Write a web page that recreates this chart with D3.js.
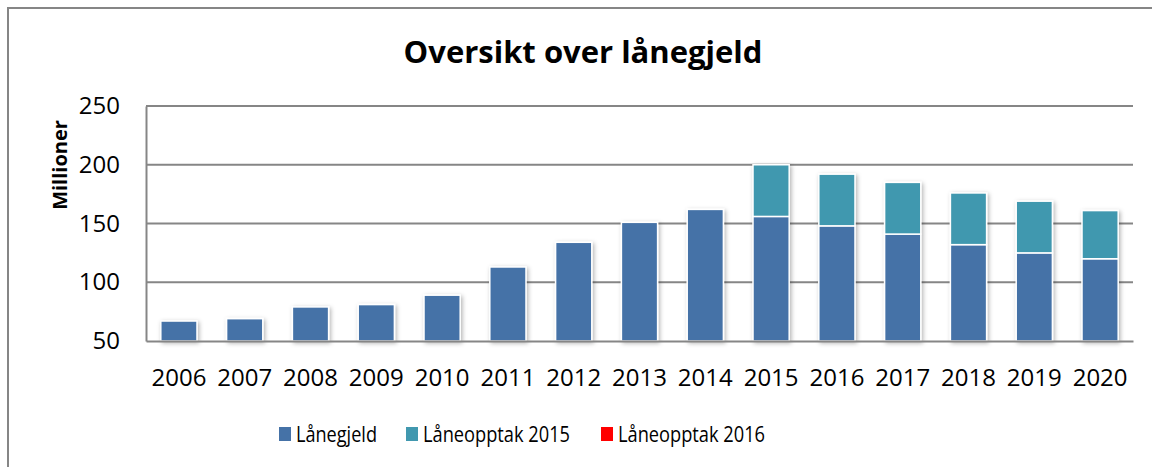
<!DOCTYPE html>
<html>
<head>
<meta charset="utf-8">
<script src="https://cdn.jsdelivr.net/npm/d3@7"></script>
<style>
  body { margin: 0; background: #fff; }
  svg { display: block; font-family: "Open Sans", sans-serif; }
</style>
</head>
<body>
<svg></svg>
<script>
let years = ["2006","2007","2008","2009","2010","2011","2012","2013","2014","2015","2016","2017","2018","2019","2020"]
let laanegjeld = [67, 69, 79, 81, 89, 113, 134, 151, 162, 156, 148, 141, 132, 125, 120]
let laaneopptak2015 = [0, 0, 0, 0, 0, 0, 0, 0, 0, 44, 44, 44, 44, 44, 41]
let laaneopptak2016 = [0, 0, 0, 0, 0, 0, 0, 0, 0, 0, 0, 0, 0, 0, 0]
let seriesNames = ["Lånegjeld", "Låneopptak 2015", "Låneopptak 2016"]
let seriesColors = ["#4572a7", "#4198af", "#ff0000"]
let yTicks = [50, 100, 150, 200, 250]

let width = 1152
let height = 467
let plotLeft = 146
let plotRight = 1133
let plotTop = 106
let plotBottom = 341

let svg = d3.select("svg")
svg.attr("width", width)
svg.attr("height", height)

// drop shadow like the office chart
let defs = svg.append("defs")
defs.append("filter")
    .attr("id", "shadow")
    .attr("x", "-20%").attr("y", "-20%")
    .attr("width", "150%").attr("height", "150%")
    .append("feDropShadow")
    .attr("dx", 1.5).attr("dy", 1.5)
    .attr("stdDeviation", 2)
    .attr("flood-color", "#000")
    .attr("flood-opacity", 0.3)

// outer chart border
svg.append("rect")
   .attr("x", 8).attr("y", 8)
   .attr("width", 1170).attr("height", 480)
   .attr("fill", "none")
   .attr("stroke", "#868686")
   .attr("stroke-width", 2)

let xScale = d3.scaleBand()
               .domain(years)
               .range([plotLeft, plotRight])
               .paddingInner(0.45)
               .paddingOuter(0.225)

let yScale = d3.scaleLinear()
               .domain([50, 250])
               .range([plotBottom, plotTop])

// gridlines
svg.append("g")
   .selectAll("line")
   .data(yTicks.slice(1))
   .enter()
   .append("line")
   .attr("x1", plotLeft).attr("x2", plotRight)
   .attr("y1", (d) => yScale(d)).attr("y2", (d) => yScale(d))
   .attr("stroke", "#868686")
   .attr("stroke-width", 2)

let rows = years.map((y, i) => ({
  year: y,
  s0: laanegjeld[i],
  s1: laaneopptak2015[i],
  s2: laaneopptak2016[i]
}))

let stacked = d3.stack().keys(["s0", "s1", "s2"])(rows)

let barG = svg.append("g").attr("filter", "url(#shadow)")

stacked.forEach((layer, k) => {
  barG.selectAll(".bar" + k)
      .data(layer.filter((d) => d[1] - d[0] > 0))
      .enter()
      .append("rect")
      .attr("class", "bar" + k)
      .attr("x", (d) => xScale(d.data.year))
      .attr("width", xScale.bandwidth())
      .attr("y", (d) => yScale(d[1]))
      .attr("height", (d) => yScale(Math.max(d[0], 50)) - yScale(d[1]))
      .attr("fill", seriesColors[k])
      .attr("stroke", "#fff")
      .attr("stroke-width", 1.5)
})

// axes
let xAxis = d3.axisBottom(xScale).tickSize(0).tickPadding(28)
let xg = svg.append("g")
   .attr("transform", "translate(0," + plotBottom + ")")
   .call(xAxis)
xg.select(".domain").attr("stroke", "#868686").attr("stroke-width", 2)
xg.selectAll("text").attr("font-size", 24).attr("fill", "#000")
   .attr("font-family", "Open Sans")

let yAxis = d3.axisLeft(yScale).tickValues(yTicks).tickSize(0).tickPadding(26)
let yg = svg.append("g")
   .attr("transform", "translate(" + plotLeft + ",0)")
   .call(yAxis)
yg.select(".domain").attr("stroke", "#868686").attr("stroke-width", 2)
yg.selectAll("text").attr("font-size", 24).attr("fill", "#000")
   .attr("font-family", "Open Sans")

// titles
svg.append("text")
   .attr("x", 583).attr("y", 63)
   .attr("text-anchor", "middle")
   .attr("font-size", 31)
   .attr("font-weight", "bold")
   .text("Oversikt over lånegjeld")

svg.append("text")
   .attr("transform", "translate(67,165) rotate(-90)")
   .attr("text-anchor", "middle")
   .attr("font-size", 20)
   .attr("font-weight", "bold")
   .text("Millioner")

// legend (text squeezed a little, the original font is narrower)
let legendX = [279, 406, 601]
let legendW = [81, 147, 147]
let legend = svg.append("g")
legend.selectAll("rect")
      .data(seriesNames)
      .enter()
      .append("rect")
      .attr("x", (d, i) => legendX[i])
      .attr("y", 427)
      .attr("width", 12).attr("height", 14)
      .attr("fill", (d, i) => seriesColors[i])
legend.selectAll("text")
      .data(seriesNames)
      .enter()
      .append("text")
      .attr("x", (d, i) => legendX[i] + 17)
      .attr("y", 442)
      .attr("font-size", 22)
      .attr("textLength", (d, i) => legendW[i])
      .attr("lengthAdjust", "spacingAndGlyphs")
      .text((d) => d)
</script>
</body>
</html>
